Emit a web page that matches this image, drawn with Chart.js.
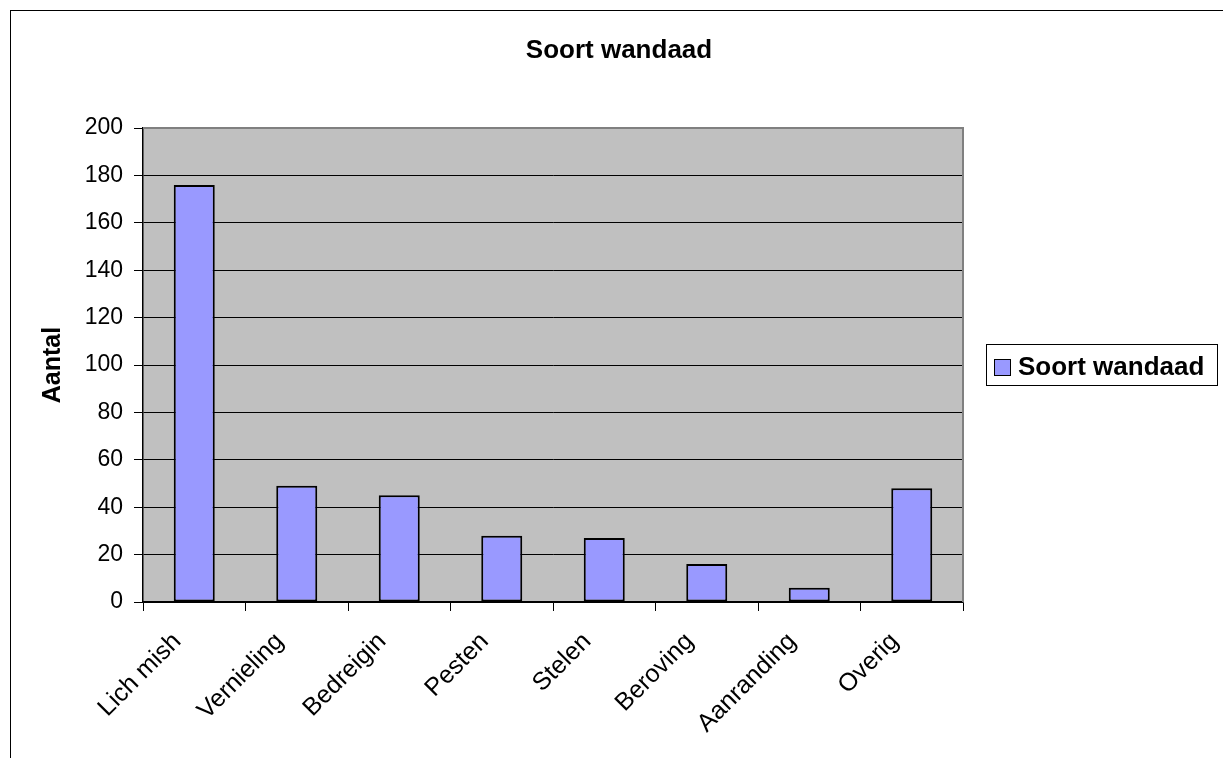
<!DOCTYPE html>
<html>
<head>
<meta charset="utf-8">
<script src="https://cdn.jsdelivr.net/npm/chart.js@4.4.0/dist/chart.umd.min.js"></script>
<style>
  html, body { margin: 0; padding: 0; background: #fff; }
  #wrap { width: 1223px; height: 758px; }
</style>
</head>
<body>
<div id="wrap"><canvas id="chart" width="1223" height="758"></canvas></div>
<script>
// data
var categories = ['Lich mish', 'Vernieling', 'Bedreigin', 'Pesten', 'Stelen', 'Beroving', 'Aanranding', 'Overig'];
var counts = [176, 49, 45, 28, 27, 16, 6, 48];
var seriesName = 'Soort wandaad';
var chartTitle = 'Soort wandaad';
var yTitle = 'Aantal';

var FONT = "'Liberation Sans', Arial, sans-serif";

// grey plot area, grey frame round it, and the outer chart frame
var plotArea = {
  id: 'plotArea',
  beforeDraw: function (chart) {
    var ctx = chart.ctx, a = chart.chartArea;
    ctx.save();
    ctx.fillStyle = '#fff';
    ctx.fillRect(0, 0, chart.width, chart.height);
    ctx.strokeStyle = '#000';
    ctx.lineWidth = 1;
    ctx.strokeRect(10.5, 10.5, chart.width + 20, chart.height + 20);
    ctx.fillStyle = '#C0C0C0';
    ctx.fillRect(a.left, a.top, a.right - a.left, a.bottom - a.top);
    ctx.restore();
  },
  afterDatasetsDraw: function (chart) {
    var ctx = chart.ctx, a = chart.chartArea;
    ctx.save();
    ctx.strokeStyle = '#808080';
    ctx.lineWidth = 2;
    ctx.beginPath();
    ctx.moveTo(a.left, a.top);
    ctx.lineTo(a.right, a.top);
    ctx.lineTo(a.right, a.bottom);
    ctx.stroke();
    ctx.restore();
  }
};

// title centred on the whole chart, boxed legend on the right
var titleAndLegend = {
  id: 'titleAndLegend',
  afterDraw: function (chart) {
    var ctx = chart.ctx;
    var ds = chart.data.datasets[0];
    ctx.save();
    ctx.fillStyle = '#000';
    ctx.font = 'bold 26px ' + FONT;
    ctx.textAlign = 'center';
    ctx.textBaseline = 'alphabetic';
    ctx.fillText(chartTitle, 619, 58);

    ctx.textAlign = 'left';
    ctx.fillStyle = '#fff';
    ctx.fillRect(986, 344, 232, 42);
    ctx.strokeStyle = '#000';
    ctx.lineWidth = 1;
    ctx.strokeRect(986.5, 344.5, 231, 41);
    ctx.fillStyle = ds.backgroundColor;
    ctx.fillRect(995, 360, 15, 15);
    ctx.strokeRect(994.5, 359.5, 16, 16);
    ctx.fillStyle = '#000';
    ctx.fillText(ds.label, 1018, 375);
    ctx.restore();
  }
};

new Chart(document.getElementById('chart'), {
  type: 'bar',
  data: {
    labels: categories,
    datasets: [{
      label: seriesName,
      data: counts,
      backgroundColor: '#9999FF',
      borderColor: '#000',
      borderWidth: 2,
      borderSkipped: false,
      barPercentage: 0.4,
      categoryPercentage: 1.0
    }]
  },
  options: {
    responsive: false,
    animation: false,
    layout: { padding: { left: 20, right: 260, top: 128, bottom: 0 } },
    plugins: {
      legend: { display: false },
      tooltip: { enabled: false },
      title: { display: false }
    },
    scales: {
      x: {
        afterFit: function (s) { s.height = 156; },
        grid: {
          offset: true,
          drawOnChartArea: false,
          color: '#000',
          tickColor: '#000',
          tickLength: 9
        },
        border: { color: '#000', width: 1.5 },
        ticks: {
          color: '#000',
          font: { family: FONT, size: 25 },
          minRotation: 45,
          maxRotation: 45,
          padding: 16,
          labelOffset: -17
        }
      },
      y: {
        min: 0,
        max: 200,
        afterFit: function (s) { s.width = 123; },
        grid: {
          color: '#000',
          tickColor: '#000',
          tickLength: 9
        },
        border: { color: '#000', width: 1.5 },
        ticks: {
          stepSize: 20,
          color: '#000',
          font: { family: FONT, size: 23 },
          padding: 11
        },
        title: {
          display: true,
          text: yTitle,
          color: '#000',
          font: { family: FONT, size: 25, weight: 'bold', lineHeight: 1.2 },
          padding: { top: 18 }
        }
      }
    }
  },
  plugins: [plotArea, titleAndLegend]
});
</script>
</body>
</html>
